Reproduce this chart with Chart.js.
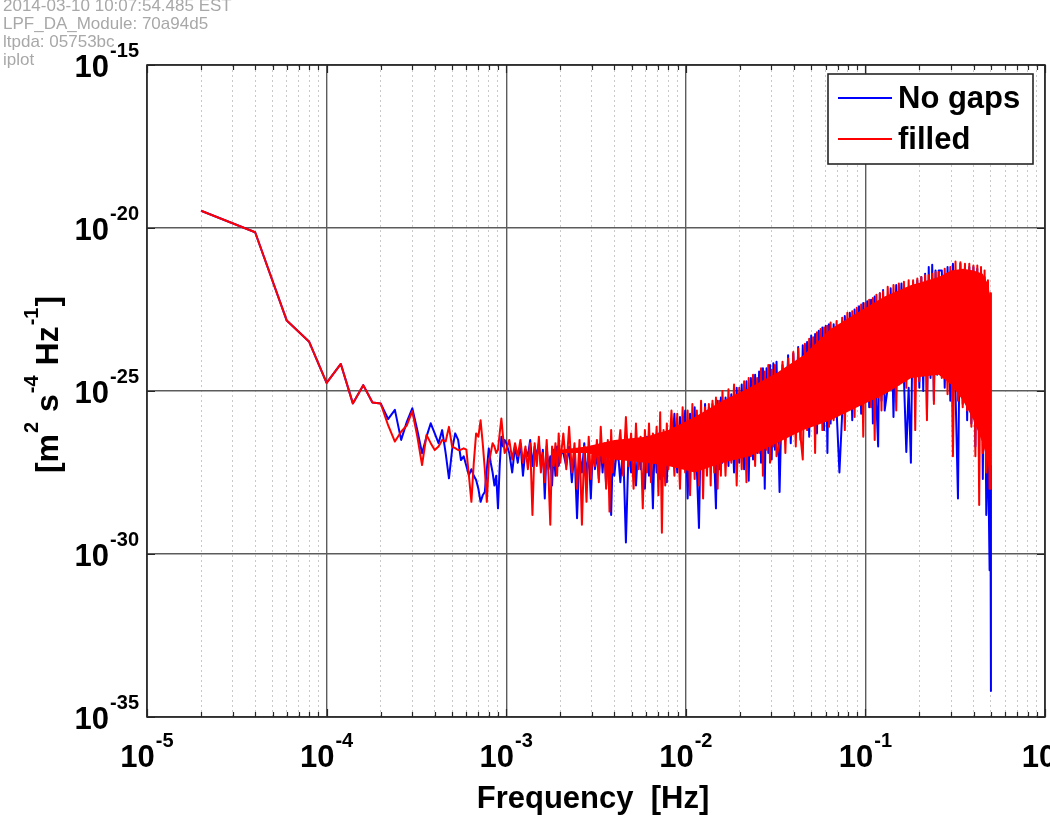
<!DOCTYPE html>
<html>
<head>
<meta charset="utf-8">
<title>PSD - No gaps vs filled</title>
<script src="https://cdn.jsdelivr.net/npm/chart.js@4/dist/chart.umd.min.js"></script>
<style>
  html, body { margin: 0; padding: 0; background: #fff; }
  #wrap { width: 1050px; height: 817px; position: relative; }
</style>
</head>
<body>
<div id="wrap"><canvas id="psd"></canvas></div>
<script>
const FONT = '"Liberation Sans", Arial, Helvetica, sans-serif';

// iplot stamp in the top-left corner
const headerLines = ['2014-03-10 10:07:54.485 EST', 'LPF_DA_Module: 70a94d5', 'ltpda: 05753bc', 'iplot'];

// axis decades (exponents)
const xDecades = [-5, -4, -3, -2, -1, 0];
const xMinor = [2, 3, 4, 5, 6, 7, 8, 9];
const yDecades = [-35, -30, -25, -20, -15];

// frequency bins (k * df)
const DF = 2e-5; // Hz
const bins = [
  1, 2, 3, 4, 5, 6, 7, 8, 9, 10, 11, 12, 13, 14, 15, 16, 17, 18, 19, 20,
  21, 22, 23, 24, 25, 26, 27, 28, 29, 30, 31, 32, 33, 34, 35, 36, 37, 38, 39, 40,
  41, 42, 43, 44, 45, 46, 47, 48, 49, 50,
  52, 54, 56, 58, 60, 62, 64, 66, 68, 70, 72, 74, 76, 78, 80, 82, 84, 86, 88, 90, 92, 94, 96, 98, 100,
  104, 108, 112, 116, 120, 124, 128, 132, 136, 140, 144, 148, 152, 156, 160, 164, 168, 172, 176, 180, 184, 188, 192, 196, 200,
  208, 216, 224, 232, 240, 248, 256, 264, 272, 280, 288, 296, 304, 312, 320, 328, 336, 344, 352, 360, 368, 376, 384, 392, 400,
  416, 432, 448, 464, 480, 496, 512, 528, 544, 560, 576, 592, 608, 624, 640, 656, 672, 688, 704, 720, 736, 752, 768, 784, 800,
  832, 864, 896, 928, 960, 992, 1024, 1056, 1088, 1120, 1152, 1184, 1216, 1248, 1280, 1312, 1344, 1376, 1408, 1440, 1472, 1504, 1536, 1568, 1600,
  1664, 1728, 1792, 1856, 1920, 1984, 2048, 2112, 2176, 2240, 2304, 2368, 2432, 2496, 2560, 2624, 2688, 2752, 2816, 2880, 2944, 3008, 3072, 3136, 3200,
  3328, 3456, 3584, 3712, 3840, 3968, 4096, 4224, 4352, 4480, 4608, 4736, 4864, 4992, 5120, 5248, 5376, 5504, 5632, 5760, 5888, 6016, 6144, 6272, 6400,
  6656, 6912, 7168, 7424, 7680, 7936, 8192, 8448, 8704, 8960, 9216, 9472, 9728, 9984, 10240, 10496, 10752, 11008, 11264, 11520, 11776, 12032, 12288, 12544, 12800,
  13312, 13824, 14336, 14848, 15360, 15872, 16384, 16896, 17408, 17920, 18432, 18944, 19456, 19968, 20480, 20992, 21504, 22016, 22528, 23040, 23552, 24064, 24576, 24832, 25000
];

// log10 of PSD [m^2 s^-4 Hz^-1]
const noGapsLog = [
  -19.47, -20.13, -22.84, -23.49, -24.75, -24.17, -25.38, -24.82, -25.35, -25.38,
  -25.86, -25.58, -26.5, -25.94, -25.53, -26.2, -26.91, -26.4, -25.99, -26.3,
  -26.6, -26.2, -26.9, -27.68, -26.8, -26.3, -26.5, -27.12, -27.0, -27.3,
  -27.58, -27.4, -27.6, -27.73, -28.0, -28.4, -28.2, -28.1, -27.4, -26.76,
  -27.2, -27.5, -27.9, -27.6, -28.6, -27.3, -26.4, -26.7, -26.5, -26.6,
  -26.9, -27.5, -26.7, -27.2, -26.6, -27.6, -26.8, -27.0, -26.5, -27.3, -26.7, -27.0, -26.6, -27.3, -26.8, -28.3, -26.7, -27.4, -27.0, -27.9, -26.8, -27.6, -26.7, -27.3, -26.9,
  -26.9, -27.3, -26.7, -27.8, -26.8, -28.9, -26.9, -27.5, -26.6, -27.6, -26.9, -28.3, -26.7, -27.4, -26.9, -27.7, -26.6, -27.5, -26.7, -27.9, -26.8, -27.4, -28.8, -26.9, -27.6,
  -26.6, -27.8, -26.7, -29.65, -26.8, -27.5, -26.5, -27.9, -26.6, -27.4, -26.5, -28.0, -26.4, -27.6, -26.6, -28.6, -26.4, -27.5, -26.3, -27.7, -26.5, -27.6, -26.3, -27.8, -26.4,
  -27.2, -25.7, -27.5, -25.8, -27.0, -25.6, -28.3, -25.7, -27.3, -25.5, -27.4, -29.2, -25.6, -27.2, -25.4, -27.5, -25.5, -27.3, -25.4, -27.1, -28.6, -25.3, -27.4, -25.2, -27.2,
  -25.2, -27.3, -25.1, -27.5, -24.9, -27.2, -24.8, -27.4, -24.7, -27.75, -24.6, -27.1, -24.5, -26.9, -24.4, -27.2, -24.3, -28.0, -24.3, -26.9, -24.2, -27.1, -24.15, -26.8, -24.1,
  -28.1, -24.2, -26.5, -23.9, -26.6, -23.85, -26.3, -23.65, -26.5, -23.6, -26.1, -23.5, -26.4, -23.3, -26.0, -23.25, -26.3, -23.15, -25.9, -23.05, -26.2, -23.0, -26.9, -22.95, -26.0,
  -22.95, -25.6, -27.5, -25.7, -22.7, -25.4, -22.6, -25.9, -22.5, -25.3, -22.4, -25.7, -22.3, -25.2, -22.25, -25.5, -22.2, -26.0, -22.1, -25.4, -26.7, -22.0, -25.3, -21.9, -25.6,
  -24.9, -21.85, -25.8, -21.75, -24.8, -21.7, -24.6, -26.87, -24.9, -27.2, -21.65, -24.7, -21.6, -24.9, -21.5, -25.0, -21.4, -25.74, -21.2, -24.6, -21.13, -25.3, -21.3, -24.5, -21.3,
  -21.3, -24.9, -21.2, -25.3, -21.1, -25.0, -28.3, -21.1, -25.4, -21.15, -25.9, -21.2, -26.0, -21.2, -26.7, -21.25, -26.4, -21.3, -27.7, -21.5, -28.8, -26.5, -30.5, -27.3, -34.2
];

const filledLog = [
  -19.47, -20.13, -22.84, -23.49, -24.75, -24.17, -25.38, -24.82, -25.35, -25.38,
  -26.05, -26.55, -26.25, -26.05, -25.62, -26.4, -27.27, -26.35, -26.6, -26.81,
  -26.7, -26.5, -26.55, -26.1, -26.71, -26.75, -26.81, -26.8, -26.76, -26.8,
  -27.6, -28.4, -27.2, -26.3, -26.4, -25.9, -26.6, -27.4, -28.4, -27.2,
  -26.9, -26.6, -26.7, -26.9, -26.8, -26.3, -25.84, -26.4, -26.9, -26.81,
  -26.5, -27.1, -26.6, -27.0, -26.5, -27.2, -26.7, -27.4, -26.6, -28.8, -26.6, -27.3, -26.4, -27.5, -26.9, -27.8, -26.5, -27.6, -29.1, -26.7, -27.3, -26.6, -27.6, -26.3, -27.2,
  -26.3, -27.4, -26.1, -27.5, -26.6, -28.0, -26.5, -29.1, -26.7, -28.4, -26.4, -27.7, -26.8, -27.3, -26.5, -27.8, -26.1, -27.2, -26.6, -28.0, -26.5, -28.7, -26.2, -27.5, -26.8,
  -27.1, -26.2, -27.6, -25.8, -27.3, -26.3, -28.0, -26.0, -27.4, -26.4, -28.6, -26.2, -27.5, -26.0, -27.8, -26.3, -27.2, -26.1, -28.2, -25.65, -29.35, -26.2, -27.9, -26.0, -27.4,
  -25.6, -27.6, -25.7, -28.0, -25.5, -27.5, -25.6, -28.2, -25.4, -27.7, -25.6, -27.9, -25.3, -28.3, -25.5, -27.6, -25.4, -27.9, -25.3, -27.5, -25.2, -28.0, -25.3, -27.6, -25.0,
  -27.6, -24.95, -27.2, -24.8, -27.9, -24.9, -27.4, -24.7, -27.8, -24.6, -27.0, -24.5, -27.3, -24.6, -26.9, -24.3, -27.6, -24.4, -26.8, -24.2, -27.2, -24.35, -26.7, -24.2, -27.0,
  -26.6, -24.1, -26.9, -24.0, -26.3, -23.8, -26.7, -23.7, -26.4, -27.1, -23.55, -26.2, -23.4, -26.0, -23.35, -26.9, -23.2, -25.9, -23.1, -26.2, -23.05, -25.8, -23.0, -26.1, -22.9,
  -25.9, -22.85, -25.5, -22.75, -26.2, -22.6, -25.4, -22.55, -25.8, -22.45, -25.3, -22.35, -26.4, -22.3, -25.1, -22.2, -25.5, -22.15, -26.5, -22.05, -25.2, -22.0, -25.6, -21.95, -25.0,
  -21.8, -24.6, -21.75, -25.6, -21.7, -24.4, -21.65, -24.9, -21.6, -24.5, -21.6, -26.2, -21.55, -24.7, -21.5, -24.3, -21.45, -25.9, -21.45, -24.4, -21.4, -25.4, -21.35, -24.3, -21.35,
  -24.6, -21.25, -25.1, -21.2, -27.0, -21.03, -25.3, -21.05, -25.5, -21.1, -25.6, -21.1, -26.1, -21.15, -27.0, -21.15, -28.5, -21.2, -26.9, -21.3, -27.5, -21.6, -28.0, -22.0, -28.0
];

// solid core of the red band where the trace is too dense to resolve
const coreBins = [100, 140, 200, 300, 400, 560, 800, 1130, 1600, 2260, 3200, 4500, 6400, 9000, 12800, 15000, 17500, 20000, 22500, 24000, 24800];
const filledCoreHi = [-26.8, -26.7, -26.5, -26.4, -26.2, -25.8, -25.3, -24.9, -24.45, -23.9, -23.1, -22.6, -22.1, -21.75, -21.5, -21.3, -21.25, -21.3, -21.4, -21.7, -22.1];
const filledCoreLo = [-26.9, -26.9, -27.1, -27.2, -27.3, -27.5, -27.2, -27.0, -26.6, -26.2, -25.9, -25.5, -25.1, -24.6, -24.5, -24.8, -25.3, -25.9, -26.6, -27.2, -27.8];

const isDecade = (v) => Math.abs(Math.log10(v) - Math.round(Math.log10(v))) < 1e-6;

const xTicks = [];
xDecades.forEach((d, i) => {
  xTicks.push(Math.pow(10, d));
  if (i < xDecades.length - 1) xMinor.forEach(m => xTicks.push(m * Math.pow(10, d)));
});
const yTicks = yDecades.map(d => Math.pow(10, d));

const toPoints = (xb, logs) => xb.map((b, i) => ({ x: b * DF, y: Math.pow(10, logs[i]) }));

function drawPower(c, exp, x, y, align) {
  const base = '10';
  const sup = String(exp);
  c.font = 'bold 31px ' + FONT;
  const wb = c.measureText(base).width;
  c.font = 'bold 20px ' + FONT;
  const ws = c.measureText(sup).width;
  const w = wb + 1 + ws;
  const left = align === 'center' ? x - w / 2 : x - w;
  c.textAlign = 'left';
  c.textBaseline = 'alphabetic';
  c.font = 'bold 31px ' + FONT;
  c.fillText(base, left, y);
  c.font = 'bold 20px ' + FONT;
  c.fillText(sup, left + wb + 1, y - 20);
}

const matlabAxes = {
  id: 'matlabAxes',
  beforeDraw(chart) {
    const c = chart.ctx;
    c.save();
    c.fillStyle = '#a8a8a8';
    c.font = '17px ' + FONT;
    c.textAlign = 'left';
    c.textBaseline = 'alphabetic';
    headerLines.forEach((t, i) => c.fillText(t, 3, 11 + i * 18));
    c.restore();
  },
  afterDraw(chart) {
    const c = chart.ctx;
    const a = chart.chartArea;
    const xs = chart.scales.x;
    const ys = chart.scales.y;
    c.save();

    // inward tick marks
    c.strokeStyle = '#262626';
    c.lineWidth = 1.2;
    c.beginPath();
    xTicks.forEach(v => {
      const px = Math.round(xs.getPixelForValue(v)) + 0.5;
      const len = isDecade(v) ? 8 : 5;
      c.moveTo(px, a.bottom); c.lineTo(px, a.bottom - len);
      c.moveTo(px, a.top); c.lineTo(px, a.top + len);
    });
    yTicks.forEach(v => {
      const py = Math.round(ys.getPixelForValue(v)) + 0.5;
      c.moveTo(a.left, py); c.lineTo(a.left + 8, py);
      c.moveTo(a.right, py); c.lineTo(a.right - 8, py);
    });
    c.stroke();

    // frame
    c.lineWidth = 1.6;
    c.strokeRect(a.left, a.top, a.right - a.left, a.bottom - a.top);

    // tick labels
    c.fillStyle = '#000';
    xDecades.forEach(d => drawPower(c, d, xs.getPixelForValue(Math.pow(10, d)), a.bottom + 50, 'center'));
    yDecades.forEach(d => drawPower(c, d, a.left - 8, ys.getPixelForValue(Math.pow(10, d)) + 12, 'right'));

    // x title
    c.font = 'bold 31px ' + FONT;
    c.textAlign = 'center';
    c.fillText('Frequency  [Hz]', 593, 808);

    // y title with superscripts
    const parts = [['[m', false], ['2', true], [' s', false], ['-4', true], [' Hz', false], ['-1', true], [']', false]];
    c.save();
    c.translate(58, 384);
    c.rotate(-Math.PI / 2);
    c.textAlign = 'left';
    let total = 0;
    parts.forEach(([t, sup]) => {
      c.font = (sup ? 'bold 20px ' : 'bold 32px ') + FONT;
      total += c.measureText(t).width + 1;
    });
    let cx = -total / 2;
    parts.forEach(([t, sup]) => {
      c.font = (sup ? 'bold 20px ' : 'bold 32px ') + FONT;
      c.fillText(t, cx, sup ? -20 : 0);
      cx += c.measureText(t).width + 1;
    });
    c.restore();

    // legend box inside the axes
    const lx = 828, ly = 74, lw = 205, lh = 90;
    c.fillStyle = '#fff';
    c.fillRect(lx, ly, lw, lh);
    c.strokeStyle = '#262626';
    c.lineWidth = 1.6;
    c.strokeRect(lx, ly, lw, lh);
    chart.data.datasets.filter(ds => ds.inLegend).forEach((ds, i) => {
      const yy = 98 + i * 41;
      c.strokeStyle = ds.borderColor;
      c.lineWidth = 2;
      c.beginPath();
      c.moveTo(838, yy); c.lineTo(892, yy);
      c.stroke();
      c.fillStyle = '#000';
      c.font = 'bold 31px ' + FONT;
      c.textAlign = 'left';
      c.fillText(ds.label, 898, yy + 10);
    });

    c.restore();
  }
};

const gridColor = (ctx) => (ctx.tick && !isDecade(ctx.tick.value)) ? '#c9c9c9' : '#5c5c5c';
const gridWidth = (ctx) => (ctx.tick && !isDecade(ctx.tick.value)) ? 1 : 1.4;
const gridDash = (ctx) => (ctx.tick && !isDecade(ctx.tick.value)) ? [2, 3] : [];

const traceStyle = {
  showLine: true,
  pointRadius: 0,
  borderWidth: 2,
  borderJoinStyle: 'round',
  tension: 0,
  fill: false
};

new Chart(document.getElementById('psd'), {
  type: 'scatter',
  data: {
    datasets: [
      { ...traceStyle, label: 'No gaps', inLegend: true, data: toPoints(bins, noGapsLog), borderColor: '#0000ff', backgroundColor: '#0000ff', order: 3 },
      { ...traceStyle, label: 'filled', inLegend: true, data: toPoints(bins, filledLog), borderColor: '#ff0000', backgroundColor: '#ff0000', order: 1 },
      { ...traceStyle, label: 'filled core hi', data: toPoints(coreBins, filledCoreHi), borderWidth: 0, borderColor: '#ff0000', order: 2 },
      { ...traceStyle, label: 'filled core lo', data: toPoints(coreBins, filledCoreLo), borderWidth: 0, borderColor: '#ff0000', backgroundColor: '#ff0000', fill: '-1', order: 2 }
    ]
  },
  options: {
    responsive: true,
    maintainAspectRatio: false,
    animation: false,
    events: [],
    layout: { padding: { left: 147, right: 5, top: 65, bottom: 100 } },
    plugins: { legend: { display: false }, tooltip: { enabled: false } },
    scales: {
      x: {
        type: 'logarithmic',
        min: 1e-5,
        max: 1,
        afterBuildTicks: (s) => { s.ticks = xTicks.map(v => ({ value: v })); },
        afterFit: (s) => { s.height = 0; },
        ticks: { display: false, autoSkip: false },
        grid: { drawTicks: false, color: gridColor, lineWidth: gridWidth },
        border: { display: false, dash: gridDash }
      },
      y: {
        type: 'logarithmic',
        min: 1e-35,
        max: 1e-15,
        afterBuildTicks: (s) => { s.ticks = yTicks.map(v => ({ value: v })); },
        afterFit: (s) => { s.width = 0; },
        ticks: { display: false, autoSkip: false },
        grid: { drawTicks: false, color: '#5c5c5c', lineWidth: 1.4 },
        border: { display: false }
      }
    }
  },
  plugins: [matlabAxes]
});
</script>
</body>
</html>
